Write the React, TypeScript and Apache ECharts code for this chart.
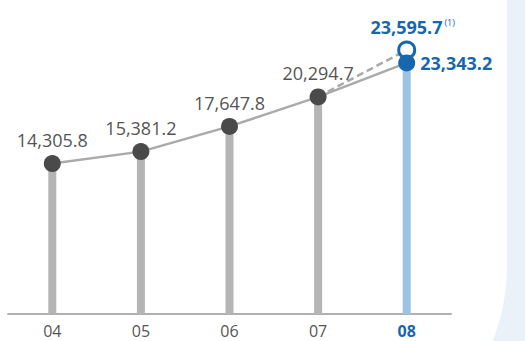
import React, { useEffect, useRef } from "react";
import * as echarts from "echarts";

const years = ["04", "05", "06", "07", "08"];
const actual = [14305.8, 15381.2, 17647.8, 20294.7, 23343.2];
const estimate: (number | null)[] = [null, null, null, 20294.7, 23595.7];
const footnote = "(1)";

const GREY_TEXT = "#555555";
const BLUE = "#1767ae";
const FONT = "Open Sans";

const fmt = (v: number) =>
  v.toLocaleString("en-US", { minimumFractionDigits: 1, maximumFractionDigits: 1 });

export default function App() {
  const ref = useRef<HTMLDivElement>(null);
  useEffect(() => {
    if (!ref.current) return;
    echarts.graphic.registerShape(
      "sidePanel",
      echarts.graphic.extendPath("M507,0 L525,0 L525,341 L493,341 C501,318 506,298 507,272 Z", {}) as any
    );
    const chart = echarts.init(ref.current, null, { renderer: "svg" });
    const last = years.length - 1;
    chart.setOption({
      animation: false,
      textStyle: { fontFamily: FONT },
      graphic: [
        { type: "sidePanel", x: 0, y: 0, z: -10, silent: true, style: { fill: "#eaf1f8" } },
      ],
      grid: { left: 8, right: 74, top: 20, bottom: 27 },
      xAxis: {
        type: "category",
        data: years.map((y, i) =>
          i === last
            ? { value: y, textStyle: { color: BLUE, fontWeight: "bold" } }
            : y
        ),
        axisLine: { lineStyle: { color: "#b0b0b0", width: 2 } },
        axisTick: { show: false },
        axisLabel: { color: GREY_TEXT, fontSize: 16, lineHeight: 16, margin: 9, fontFamily: FONT },
      },
      yAxis: [
        { type: "value", min: 800, max: 27200, show: false },
        { type: "value", min: 4934, max: 25716, show: false },
      ],
      series: [
        {
          type: "bar",
          barWidth: 8,
          data: actual.map((v, i) => ({
            value: v,
            itemStyle: { color: i === last ? "#9bc4e2" : "#b5b5b5" },
          })),
          z: 1,
        },
        {
          type: "line",
          yAxisIndex: 1,
          data: estimate.map((v, i) =>
            i === last
              ? {
                  value: v,
                  symbol: "circle",
                  symbolSize: 16,
                  itemStyle: { color: "#ffffff", borderColor: BLUE, borderWidth: 3 },
                  label: {
                    show: true,
                    position: "top",
                    distance: 4,
                    offset: [6, 0],
                    formatter: () => `{a|${fmt(v as number)}}{s|${footnote}}`,
                    rich: {
                      a: { fontSize: 18, fontWeight: "bold", color: BLUE, fontFamily: FONT },
                      s: { fontSize: 9, color: BLUE, verticalAlign: "top", padding: [0, 0, 8, 2], fontFamily: FONT },
                    },
                  },
                }
              : { value: v, symbol: "none" }
          ),
          lineStyle: { color: "#aaaaaa", width: 2.5, type: [7, 4] },
          z: 2,
        },
        {
          type: "line",
          data: actual.map((v, i) => ({
            value: v,
            itemStyle: { color: i === last ? BLUE : "#4a4a4a" },
            label:
              i === last
                ? {
                    show: true,
                    position: "right",
                    distance: 5,
                    color: BLUE,
                    fontWeight: "bold",
                    fontSize: 18,
                    fontFamily: FONT,
                  }
                : {
                    show: true,
                    position: "top",
                    distance: 6,
                    color: GREY_TEXT,
                    fontSize: 18,
                    fontFamily: FONT,
                  },
          })),
          symbol: "circle",
          symbolSize: 17,
          lineStyle: { color: "#aaaaaa", width: 2.5 },
          label: { formatter: (p: any) => fmt(p.value) },
          z: 3,
        },
      ],
    });
    return () => chart.dispose();
  }, []);
  return (
    <div
      ref={ref}
      style={{ position: "fixed", left: 0, top: 0, width: 525, height: 341, background: "#ffffff" }}
    />
  );
}
